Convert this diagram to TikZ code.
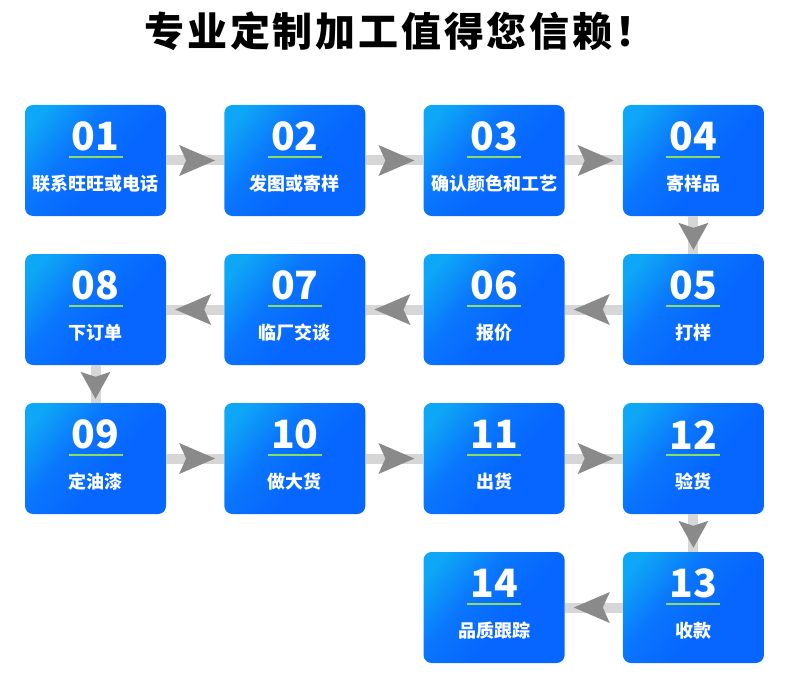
\documentclass[tikz,border=0pt]{standalone}
\usepackage{fontspec}
\setmainfont{Noto Sans CJK SC}
\usetikzlibrary{arrows.meta,calc}
\definecolor{lightb}{RGB}{14,166,246}
\definecolor{midb}{RGB}{10,118,253}
\definecolor{darkb}{RGB}{6,102,255}
\definecolor{barc}{RGB}{214,214,214}
\definecolor{headc}{RGB}{138,138,138}
\definecolor{ulc}{RGB}{140,220,100}
\pgfdeclarehorizontalshading{boxshade}{100bp}{color(0bp)=(lightb); color(22bp)=(lightb); color(40bp)=(midb); color(58bp)=(darkb); color(100bp)=(darkb)}
\tikzset{
  titletxt/.style={font=\fontsize{40}{44}\selectfont\bfseries\addfontfeature{LetterSpace=7}, text=black, inner sep=0pt},
  boxs/.style={rectangle, rounded corners=8pt, minimum width=141pt, minimum height=111pt, shading=boxshade, shading angle=-40, draw=none, inner sep=0pt},
  numtxt/.style={font=\fontsize{39}{44}\selectfont\bfseries, text=white, inner sep=0pt},
  labtxt/.style={font=\fontsize{18}{20}\selectfont\bfseries, text=white, inner sep=0pt},
  uline/.style={draw=ulc, line width=1.5pt},
  bar/.style={draw=barc, line width=10pt},
  hhead/.style={draw=barc, line width=0.2pt, shorten >=9pt, -{Stealth[length=36pt,width=31pt,inset=7pt,color=headc,line width=0pt]}},
  vhead/.style={draw=barc, line width=0.2pt, shorten >=4pt, -{Stealth[length=27pt,width=30pt,inset=5pt,color=headc,line width=0pt]}}
}
\newcommand\mkbox[5]{%
  \node[boxs] (#1) at (#2,#3) {};
  \node[numtxt] (#1n) at ($(#1.north)+(0,32)$) {#4};
  \draw[uline] ($(#1.north)+(-27,52)$) -- ($(#1.north)+(27,52)$);
  \node[labtxt] (#1l) at ($(#1.north)+(0,79)$) {#5};
}
\newcommand\harrow[2]{\draw[bar] (#1) -- (#2); \draw[hhead] (#1) -- (#2);}
\newcommand\varrow[2]{\draw[bar] (#1) -- (#2); \draw[vhead] (#1) -- (#2);}
\begin{document}
\begin{tikzpicture}[x=1pt,y=-1pt]
\useasboundingbox (0,0) rectangle (790,682);
\node[titletxt] (title) at (400,31) {专业定制加工值得您信赖！};
\mkbox{b01}{95.5}{160.5}{01}{联系旺旺或电话}
\mkbox{b02}{294.8}{160.5}{02}{发图或寄样}
\mkbox{b03}{494.1}{160.5}{03}{确认颜色和工艺}
\mkbox{b04}{693.4}{160.5}{04}{寄样品}
\mkbox{b08}{95.5}{309.5}{08}{下订单}
\mkbox{b07}{294.8}{309.5}{07}{临厂交谈}
\mkbox{b06}{494.1}{309.5}{06}{报价}
\mkbox{b05}{693.4}{309.5}{05}{打样}
\mkbox{b09}{95.5}{458.5}{09}{定油漆}
\mkbox{b10}{294.8}{458.5}{10}{做大货}
\mkbox{b11}{494.1}{458.5}{11}{出货}
\mkbox{b12}{693.4}{458.5}{12}{验货}
\mkbox{b14}{494.1}{607.5}{14}{品质跟踪}
\mkbox{b13}{693.4}{607.5}{13}{收款}
\harrow{b01}{b02}
\harrow{b02}{b03}
\harrow{b03}{b04}
\varrow{b04}{b05}
\harrow{b05}{b06}
\harrow{b06}{b07}
\harrow{b07}{b08}
\varrow{b08}{b09}
\harrow{b09}{b10}
\harrow{b10}{b11}
\harrow{b11}{b12}
\varrow{b12}{b13}
\harrow{b13}{b14}
\end{tikzpicture}
\end{document}
